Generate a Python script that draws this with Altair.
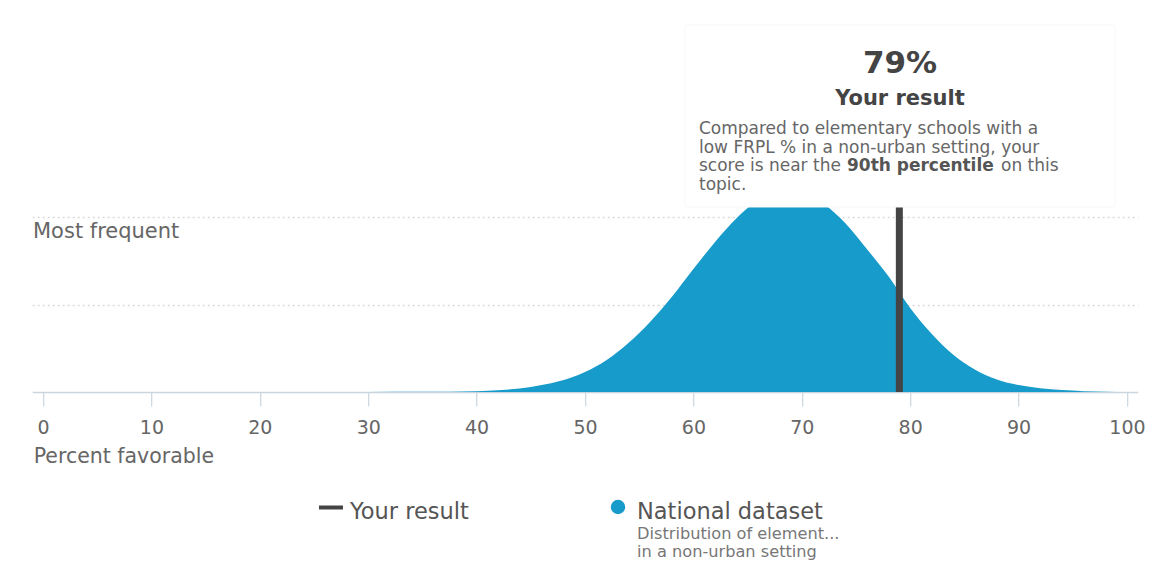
import altair as alt
import pandas as pd

# ---- data ----
score_pct = [30, 35, 40, 45, 50, 52, 54, 56, 58, 60, 62, 64, 66, 68, 70, 72, 74, 76, 78,
             80, 82, 84, 86, 88, 90, 92, 94, 96, 98, 100]
frequency = [0.0, 0.001, 0.005, 0.029, 0.114, 0.183, 0.280, 0.401, 0.544, 0.704, 0.859,
             0.996, 1.099, 1.151, 1.145, 1.079, 0.967, 0.819, 0.662, 0.481, 0.332, 0.212,
             0.128, 0.072, 0.040, 0.022, 0.011, 0.005, 0.002, 0.0]
your_result = [79]
x_ticks = [0, 10, 20, 30, 40, 50, 60, 70, 80, 90, 100]
grid_levels = [0.5, 1.0]

big_value = ["79%"]
box_title = ["Your result"]
para_lines = ["Compared to elementary schools with a",
              "low FRPL % in a non-urban setting, your"]
line3_a = ["score is near the"]
line3_b = ["90th percentile"]
line3_c = ["on this"]
line4 = ["topic."]
freq_label = ["Most frequent"]
legend_result = ["Your result"]
legend_nat = ["National dataset"]
legend_sub = ["Distribution of element...", "in a non-urban setting"]

FONT = "DejaVu Sans"
BLUE = "#179bca"
DARK = "#444444"
GREY = "#666666"

# plot-area origin on the page: (32.2, 130)
OX, OY = 32.2, 130.0
def px(x):
    return x - OX
def py(y):
    return y - OY

dist = pd.DataFrame({"score": score_pct, "freq": frequency})

xscale = alt.Scale(domain=[-1, 101], nice=False, zero=False)
yscale = alt.Scale(domain=[0, 1.5], nice=False)

area = alt.Chart(dist).mark_area(color=BLUE, interpolate="monotone").encode(
    x=alt.X("score:Q", scale=xscale,
            axis=alt.Axis(values=x_ticks, title="Percent favorable", grid=False,
                          domainColor="#c9d6df", domainWidth=1.5,
                          tickColor="#c9d6df", tickSize=14, tickWidth=1.2,
                          labelFont=FONT, labelFontSize=19, labelColor=GREY,
                          labelPadding=13, labelFlush=False,
                          titleFont=FONT, titleFontSize=20.5, titleFontWeight="normal",
                          titleColor=GREY, titleAnchor="start", titleAlign="left",
                          titleBaseline="alphabetic", titleX=1, titleY=71)),
    y=alt.Y("freq:Q", scale=yscale,
            axis=alt.Axis(values=grid_levels, grid=True, gridDash=[2, 3],
                          gridColor="#d9d9d9", gridWidth=1.5, domain=False,
                          ticks=False, labels=False, title=None)),
)

rule_df = pd.DataFrame({"score": your_result})
rule = alt.Chart(rule_df).mark_rule(color=DARK, strokeWidth=7).encode(
    x=alt.X("score:Q", scale=xscale),
    y=alt.datum(0, scale=yscale),
    y2=alt.value(0),
)

box = alt.Chart(pd.DataFrame({"k": [1]})).mark_rect(
    fill="white", stroke="#f7f7f7", strokeWidth=1
).encode(
    x=alt.value(px(685)), x2=alt.value(px(1115)),
    y=alt.value(py(25)), y2=alt.value(py(207)),
)

def text_layer(values, idx, x, y, size, weight="normal", color=GREY, align="left"):
    df = pd.DataFrame({"t": [values[idx]]})
    return alt.Chart(df).mark_text(
        font=FONT, fontSize=size, fontWeight=weight, color=color,
        align=align, baseline="alphabetic"
    ).encode(text="t:N", x=alt.value(px(x)), y=alt.value(py(y)))

PARA = 17
t_big = text_layer(big_value, 0, 900, 73, 31, "bold", DARK, "center")
t_title = text_layer(box_title, 0, 900, 105, 21, "bold", DARK, "center")
t_p1 = text_layer(para_lines, 0, 699, 134, PARA)
t_p2 = text_layer(para_lines, 1, 699, 152.5, PARA)
t_l3a = text_layer(line3_a, 0, 699, 171, PARA)
t_l3b = text_layer(line3_b, 0, 847, 171, PARA, "bold", "#555555")
t_l3c = text_layer(line3_c, 0, 1001, 171, PARA)
t_l4 = text_layer(line4, 0, 699, 189.5, PARA)
t_freq = text_layer(freq_label, 0, 33, 238, 21)

leg_dash = alt.Chart(pd.DataFrame({"k": [1]})).mark_rule(color=DARK, strokeWidth=4).encode(
    x=alt.value(px(319)), x2=alt.value(px(343)), y=alt.value(py(507.5)))
leg_dot = alt.Chart(pd.DataFrame({"k": [1]})).mark_point(
    filled=True, shape="circle", size=210, color=BLUE, opacity=1).encode(
    x=alt.value(px(618)), y=alt.value(py(507)))
t_leg1 = text_layer(legend_result, 0, 350, 519, 22.5, color="#555555")
t_leg2 = text_layer(legend_nat, 0, 637, 519, 22.5, color="#555555")
t_leg3 = text_layer(legend_sub, 0, 637, 539, 16.2, color="#777777")
t_leg4 = text_layer(legend_sub, 1, 637, 557, 16.2, color="#777777")

chart = alt.layer(
    area, rule, box, t_big, t_title, t_p1, t_p2, t_l3a, t_l3b, t_l3c, t_l4, t_freq,
    leg_dash, leg_dot, t_leg1, t_leg2, t_leg3, t_leg4
).properties(
    width=1105.6, height=262,
    autosize=alt.AutoSizeParams(type="none"),
    padding={"left": 24.2, "top": 122, "right": 15, "bottom": 170},
    background="white",
).configure_view(stroke=None)

chart.save("out.html", embed_options={"renderer": "svg", "actions": False})
